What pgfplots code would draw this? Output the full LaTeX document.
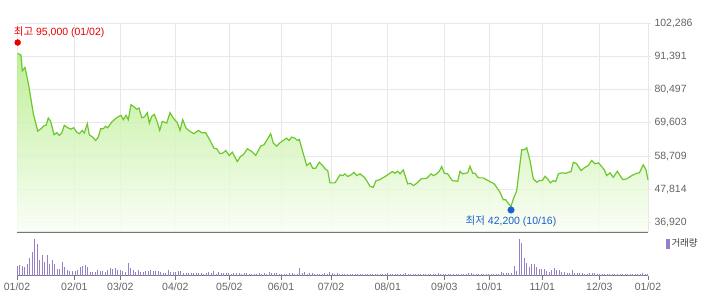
\documentclass[border=0pt]{standalone}
\usepackage{pgfplots}
\pgfplotsset{compat=1.18}
\usepackage{pgfplotstable}
\usepackage{fontspec}
\setmainfont{Liberation Sans}
\newfontfamily\kr{Noto Sans CJK KR}
\definecolor{linegreen}{RGB}{108,200,44}
\definecolor{filltop}{RGB}{180,236,135}
\definecolor{fillbot}{RGB}{250,254,246}
\definecolor{gridc}{RGB}{232,232,232}
\definecolor{axisc}{RGB}{118,118,118}
\definecolor{labc}{RGB}{100,100,100}
\definecolor{volc}{RGB}{150,128,200}
\definecolor{maxred}{RGB}{235,0,0}
\definecolor{minblue}{RGB}{25,95,205}
\newcommand\tf{\fontsize{10.5bp}{12bp}\selectfont}

\pgfplotstableread{
x y
0.7 92413
4 91854
5.3 86687
8 87806
9 86358
12 81421
16.3 72667
20.7 66941
24 67730
27.3 68816
29 68816
31.3 71219
33.7 70133
37 65756
39.7 66414
42.3 65525
44.7 66282
47.3 68816
50.7 68060
54 67599
56.7 68060
59.7 66612
62.3 66085
65.3 67171
67.3 66282
70.3 69376
72.3 65756
75.7 64966
78.7 63880
81.3 64966
83.7 67730
86.3 67730
88.7 68487
90.7 68060
94.7 69902
99.7 71351
104 72107
106.3 70692
109 72107
111.3 70692
114 75629
117.3 74839
119.7 74082
122 74510
124.7 71351
127.3 71548
130.3 72996
132.3 69573
134.7 71778
137.3 72437
140.3 69902
142.7 67171
145.3 70133
149.7 69573
153 72996
156.3 71219
160.3 69705
163 67171
165.7 70692
169 67928
173 66842
177 66085
181.3 67171
184.7 66414
188.7 66414
193 63880
197 61346
199.7 61149
203 59503
206.3 59832
208.7 60589
212.3 58943
215.3 60030
220.3 56969
223.7 58713
226.3 59174
230.3 61149
234.7 60260
238.7 58943
243.7 62004
247 62465
249.7 63880
253.7 66085
256.3 62991
259.7 62004
263 63123
266.3 63880
269.7 64636
272 63880
274.7 64966
278 64636
280.3 63880
282.3 64209
286.3 59503
289.7 55652
293 56542
295.7 54765
298.7 54765
302.3 56739
306.3 55423
308 54566
310.7 54007
313 49959
318 49959
323 52592
325.7 52361
328 52921
330.7 52032
334 52592
337 53448
339.7 52361
343 52921
347.3 51802
349.7 50716
353 48840
356.3 48511
359 50716
362.3 50946
368 52032
372 52921
375.3 53678
378 53118
380.7 53777
383 52921
386.3 54238
390.7 49630
393.7 49828
396.3 49070
399.7 49828
404 51275
409.7 51473
414 52921
416.3 52361
419.7 52921
422.3 53777
424.7 55323
427.3 53118
430.7 52921
435.3 50716
440.7 50486
443 53777
445.7 52921
448 53118
450.7 53250
453 55423
455.7 53118
458 53118
461.3 51605
466.3 51605
469.7 50946
473 50387
477.3 49630
483 46866
486.3 44463
488.7 44463
491.3 43246
494 42200
496.3 44693
499.7 47425
504.7 60820
507.3 60820
509.7 61478
513 57298
516.3 51275
519.7 50156
522.3 50716
525.3 50716
528 52131
530.7 51275
533.3 49959
536.3 50716
538.7 50387
541.3 52921
544.7 53250
548.7 53118
554 53678
556.3 56739
559.7 56212
564 54007
567.3 54895
571.3 55652
574.7 57298
578 56212
581.3 56542
584.7 55323
587.3 54238
589.7 52361
593 53250
596.3 51802
600.3 53777
605.7 51045
609.7 51275
614.7 52361
619.7 53118
622.3 53250
626.3 55883
629 54238
631 50946
}\pricedata

\pgfplotstableread[row sep=\\]{
v\\
9.7\\ 10.7\\ 10\\ 8.7\\ 11.7\\ 18\\ 23.3\\ 36.7\\ 31.7\\ 15.7\\
20.7\\ 13.7\\ 20.7\\ 11.7\\ 15.7\\ 11.7\\ 6.7\\ 6.7\\ 13.7\\ 8.7\\
5.7\\ 4.7\\ 4.7\\ 4.7\\ 6\\ 8.7\\ 9.7\\ 10.7\\ 8.7\\ 3.7\\
3.7\\ 3.7\\ 5.7\\ 4.7\\ 4.7\\ 4\\ 5.7\\ 8\\ 6.7\\ 7.7\\
5.7\\ 5.7\\ 4.7\\ 3.7\\ 12.7\\ 7.7\\ 5.7\\ 3.7\\ 5.7\\ 3.7\\
3.7\\ 4.7\\ 4.7\\ 5.7\\ 4.7\\ 4.7\\ 4.7\\ 3.7\\ 2.7\\ 2.7\\
5.7\\ 3.7\\ 3.7\\ 3.7\\ 4.7\\ 4.7\\ 2.7\\ 2.7\\ 2.7\\ 2.7\\
2.7\\ 2.7\\ 2.7\\ 2.7\\ 1.7\\ 2.7\\ 3.7\\ 2.7\\ 4.7\\ 1.7\\
3.7\\ 2.7\\ 2.7\\ 2.7\\ 2.7\\ 1.7\\ 2.7\\ 2.7\\ 2.7\\ 1.7\\
2.7\\ 2.7\\ 1.7\\ 1.7\\ 1.7\\ 1.7\\ 2.7\\ 1.7\\ 2.7\\ 1.7\\
3.7\\ 2.7\\ 2.7\\ 2.7\\ 1.7\\ 1.7\\ 1.7\\ 1.7\\ 2.7\\ 2.7\\
1.7\\ 1.7\\ 7.7\\ 2.7\\ 3.7\\ 1.7\\ 2.7\\ 2.7\\ 1.7\\ 1.7\\
1.7\\ 1.7\\ 2.7\\ 1.7\\ 3.7\\ 2.7\\
1.7\\ 2.7\\
1.7\\ 1.7\\ 1.7\\ 1.7\\ 1.7\\ 1.7\\ 1.7\\ 1.7\\ 1.7\\ 1.7\\
1.7\\ 1.7\\ 1.7\\ 1.7\\ 1.7\\ 1.7\\ 1.7\\ 1.7\\ 1.7\\
2.7\\
1.7\\ 1.7\\ 1.7\\ 1.7\\ 1.7\\ 1.7\\
2.7\\
1.7\\ 1.7\\ 1.7\\ 1.7\\ 1.7\\ 1.7\\ 1.7\\ 1.7\\ 1.7\\ 1.7\\ 1.7\\ 1.7\\
2.7\\
1.7\\ 1.7\\ 1.7\\ 1.7\\ 1.7\\ 1.7\\ 1.7\\ 1.7\\ 1.7\\ 1.7\\ 1.7\\
2.7\\ 2.7\\
1.7\\ 1.7\\ 1.7\\ 1.7\\ 1.7\\ 1.7\\ 1.7\\ 1.7\\ 1.7\\ 1.7\\ 1.7\\
3.7\\ 2.7\\ 2.7\\ 2.7\\ 2.7\\
9.7\\ 4.7\\ 36.7\\ 32.7\\ 18\\ 12.7\\ 8.7\\ 11.7\\ 11.7\\ 8.7\\
6.7\\ 6.7\\ 6.7\\ 4.7\\ 3.7\\ 5.7\\ 7.7\\ 5.7\\ 5.7\\ 3.7\\
3.7\\ 2.7\\ 2.7\\ 5.7\\ 2.7\\ 2.7\\ 2.7\\ 2.7\\ 1.7\\ 1.7\\
2.7\\ 2.7\\ 2.7\\
1.7\\ 1.7\\ 1.7\\ 1.7\\ 1.7\\ 1.7\\ 1.7\\ 1.7\\ 1.7\\ 1.7\\
1.7\\ 1.7\\ 1.7\\ 1.7\\ 1.7\\ 1.7\\ 1.7\\ 1.7\\
2.7\\ 1.7\\ 1.7\\
}\voldata

\begin{document}
\begin{tikzpicture}
\useasboundingbox (0,0) rectangle (706bp,-303bp);
\begin{axis}[
  at={(17bp,-23.3bp)}, anchor=north west,
  width=631bp, height=208.7bp, scale only axis,
  xmin=0, xmax=631, ymin=33860, ymax=102286,
  scaled y ticks=false, scaled x ticks=false,
  axis x line*=bottom, axis y line*=right, axis line style={-},
  x axis line style={draw=axisc, line width=1.2bp},
  y axis line style={draw=gridc, line width=1bp},
  xtick={0,57.3,103.3,158.3,212.3,264,314,370.7,427.3,472,525.3,582.3,631},
  xticklabels={}, x tick style={draw=none},
  ytick={36920,47814,58709,69603,80497,91391,102286},
  yticklabels={{36,920},{47,814},{58,709},{69,603},{80,497},{91,391},{102,286}},
  y tick style={draw=gridc, line width=1bp},
  tick align=outside, major tick length=3bp,
  grid=major, major grid style={draw=gridc, line width=1bp},
  yticklabel style={font=\tf, text=labc},
  clip=false,
]
\addplot[draw=none, top color=filltop, bottom color=fillbot, fill opacity=0.85]
  table[x=x, y=y] {\pricedata} -- (axis cs:631,33860) -- (axis cs:0.7,33860) -- cycle;
\addplot[linegreen, line width=1.2bp, no marks] table[x=x, y=y] {\pricedata};
\addplot[only marks, mark=*, mark size=3bp, color=maxred, mark options={yshift=3bp}]
  coordinates {(0.7,95000)}
  node[anchor=west, xshift=-4bp, yshift=13.5bp, text=maxred, font=\tf, inner sep=0pt]
  {{\kr\fontsize{10.5bp}{12bp}\selectfont 최고} 95,000 (01/02)};
\addplot[only marks, mark=*, mark size=3.3bp, color=minblue, mark options={yshift=-3.4bp}]
  coordinates {(494,42200)}
  node[yshift=-14.5bp, text=minblue, font=\tf, inner sep=0pt]
  {{\kr\fontsize{10.5bp}{12bp}\selectfont 최저} 42,200 (10/16)};
\end{axis}

\begin{axis}[
  at={(17bp,-237bp)}, anchor=north west,
  width=631bp, height=38.7bp, scale only axis,
  xmin=0, xmax=631, ymin=0, ymax=38.7,
  axis x line*=bottom, axis y line=none, axis line style={-},
  x axis line style={draw=axisc, line width=1.2bp},
  ytick=\empty,
  xtick={0,57.3,103.3,158.3,212.3,264,314,370.7,427.3,472,525.3,582.3,631},
  xticklabels={01/02,02/01,03/02,04/02,05/02,06/01,07/02,08/01,09/03,10/01,11/01,12/03,01/02},
  x tick style={draw=axisc, line width=1bp},
  tick align=outside, major tick length=4bp,
  xticklabel style={font=\tf, text=labc},
  clip=false,
  legend style={at={(1,1)}, anchor=north west, xshift=18bp, yshift=0bp,
    draw=none, fill=none, inner sep=0pt, outer sep=0pt,
    font=\kr\fontsize{9.5bp}{11bp}\selectfont, text=black!75},
  legend image code/.code={\fill[volc] (0bp,-4.5bp) rectangle (2.5bp,4.5bp);},
]
\addplot[ycomb, volc, line width=1bp, no marks] table[x expr=\coordindex*2.523, y=v] {\voldata};
\addlegendentry{거래량}
\end{axis}
\end{tikzpicture}
\end{document}
